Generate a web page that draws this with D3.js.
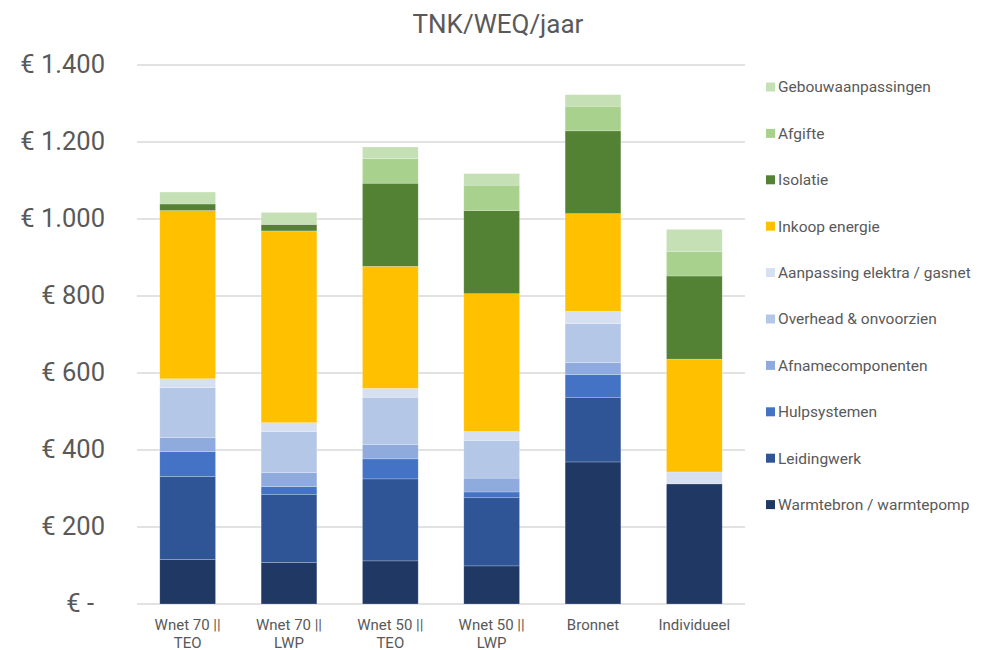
<!DOCTYPE html>
<meta charset="utf-8">
<script src="https://d3js.org/d3.v7.min.js"></script>
<style>
  body { margin: 0; background: #fff; }
  text { font-family: Roboto, "Noto Sans", sans-serif; fill: #595959; }
</style>
<div id="chart"></div>
<script>

// categories (x axis), two lines each
var categories = ["Wnet 70 || TEO", "Wnet 70 || LWP", "Wnet 50 || TEO", "Wnet 50 || LWP", "Bronnet", "Individueel"];
var categoryLines = [["Wnet 70 ||", "TEO"], ["Wnet 70 ||", "LWP"], ["Wnet 50 ||", "TEO"], ["Wnet 50 ||", "LWP"], ["Bronnet"], ["Individueel"]];

// series, bottom to top of the stack
var seriesNames = ["Warmtebron / warmtepomp", "Leidingwerk", "Hulpsystemen", "Afnamecomponenten",
  "Overhead & onvoorzien", "Aanpassing elektra / gasnet", "Inkoop energie", "Isolatie", "Afgifte", "Gebouwaanpassingen"];

var warmtebron   = [116, 108, 112,  99, 369, 312];
var leidingwerk  = [215, 177, 213, 177, 168,   0];
var hulpsystemen = [ 65,  20,  52,  15,  59,   0];
var afname       = [ 36,  36,  37,  36,  31,   0];
var overhead     = [130, 107, 123,  98, 101,   0];
var aanpassing   = [ 23,  23,  23,  23,  32,  31];
var inkoop       = [437, 498, 317, 358, 254, 293];
var isolatie     = [ 17,  17, 216, 216, 215, 216];
var afgifte      = [  0,   0,  64,  66,  64,  63];
var gebouw       = [ 31,  31,  30,  30,  30,  58];

var colors = ["#203864", "#2F5597", "#4472C4", "#8FAADC", "#B4C7E7", "#D6E0F1", "#FFC000", "#548235", "#A9D18E", "#C5E0B4"];

var yTicks = [0, 200, 400, 600, 800, 1000, 1200, 1400];
var yTickLabels = ["€ -", "€ 200", "€ 400", "€ 600", "€ 800", "€ 1.000", "€ 1.200", "€ 1.400"];

var seriesValues = [warmtebron, leidingwerk, hulpsystemen, afname, overhead, aanpassing, inkoop, isolatie, afgifte, gebouw];

// build table for d3.stack
var table = categories.map(function(c, i) {
  var row = { cat: c };
  seriesNames.forEach(function(s, j) { row[s] = seriesValues[j][i]; });
  return row;
});

var W = 981, H = 650;
var margin = { top: 65, right: 236, bottom: 46, left: 137 };
var width = W - margin.left - margin.right,
    height = H - margin.top - margin.bottom;

var svg = d3.select("#chart").append("svg")
  .attr("width", W).attr("height", H);

svg.append("text")
  .attr("x", 498).attr("y", 33)
  .attr("text-anchor", "middle")
  .style("font-size", "26px")
  .text("TNK/WEQ/jaar");

var g = svg.append("g").attr("transform", "translate(" + margin.left + "," + margin.top + ")");

var x = d3.scaleBand().domain(categories).range([0, width]).paddingInner(0.45).paddingOuter(0.225);
var y = d3.scaleLinear().domain([0, 1400]).range([height, 0]);

// gridlines
g.append("g").selectAll("line")
  .data(yTicks)
  .join("line")
    .attr("x1", 0).attr("x2", width)
    .attr("y1", function(d) { return y(d); })
    .attr("y2", function(d) { return y(d); })
    .attr("stroke", "#D9D9D9")
    .attr("stroke-width", 1.3);

// y labels
g.append("g").selectAll("text")
  .data(yTicks)
  .join("text")
    .attr("x", function(d) { return d === 0 ? -43 : -32; })
    .attr("y", function(d) { return y(d); })
    .attr("dy", "0.3em")
    .attr("text-anchor", "end")
    .style("font-size", "25.5px")
    .text(function(d, i) { return yTickLabels[i]; });

// stacked bars
var stack = d3.stack().keys(seriesNames);
var layers = stack(table);

g.append("g").selectAll("g")
  .data(layers)
  .join("g")
    .attr("fill", function(d, i) { return colors[i]; })
  .selectAll("rect")
  .data(function(d) { return d; })
  .join("rect")
    .attr("x", function(d) { return x(d.data.cat); })
    .attr("y", function(d) { return y(d[1]); })
    .attr("width", x.bandwidth())
    .attr("height", function(d) { return y(d[0]) - y(d[1]); })
    .attr("stroke", "rgba(255,255,255,0.35)")
    .attr("stroke-width", 0.6);

// x labels
var xl = g.append("g").selectAll("text")
  .data(categories)
  .join("text")
    .attr("text-anchor", "middle")
    .attr("x", function(d) { return x(d) + x.bandwidth() / 2; })
    .attr("y", height + 26)
    .style("font-size", "15px");
xl.selectAll("tspan")
  .data(function(d, i) { return categoryLines[i]; })
  .join("tspan")
    .attr("x", function() { return d3.select(this.parentNode).attr("x"); })
    .attr("dy", function(d, i) { return i === 0 ? 0 : 17.5; })
    .text(function(d) { return d; });

// legend, top entry is last series
var legend = svg.append("g").attr("transform", "translate(766,87)");
var legendOrder = seriesNames.slice().reverse();
var item = legend.selectAll("g")
  .data(legendOrder)
  .join("g")
    .attr("transform", function(d, i) { return "translate(0," + (i * 46.4) + ")"; });
item.append("rect")
  .attr("x", 0).attr("y", -4.5)
  .attr("width", 9).attr("height", 9)
  .attr("fill", function(d) { return colors[seriesNames.indexOf(d)]; });
item.append("text")
  .attr("x", 12).attr("y", 0)
  .attr("dy", "0.35em")
  .style("font-size", "15.5px")
  .text(function(d) { return d; });

</script>
